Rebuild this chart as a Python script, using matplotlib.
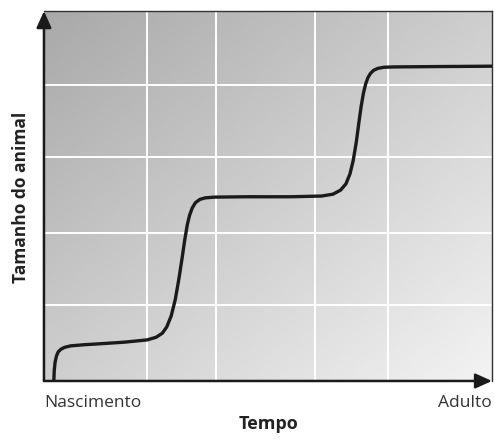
import numpy as np
import matplotlib.pyplot as plt
from matplotlib.colors import LinearSegmentedColormap

# growth curve (time 0-100, size 0-100)
tempo = [2.2, 2.3, 2.5, 2.8, 3.2, 3.8, 4.6, 6.0, 9.0, 13.0, 18.0, 23.0, 25.0,
         26.4, 27.4, 28.4, 29.3, 30.1, 30.8, 31.4, 32.0, 32.5, 33.1, 33.8,
         34.8, 36.0, 38.0, 45.0, 55.0, 62.0, 64.5, 66.2, 67.4, 68.3, 69.0,
         69.7, 70.3, 70.8, 71.3, 71.8, 72.3, 72.9, 73.6, 74.5, 75.8, 78.0,
         88.0, 100.0]
tamanho = [0.0, 3.0, 5.2, 6.8, 7.9, 8.6, 9.1, 9.5, 9.8, 10.1, 10.5, 11.1,
           11.8, 12.9, 14.6, 17.6, 22.0, 27.5, 33.0, 38.0, 42.3, 44.8, 46.8,
           48.2, 49.1, 49.5, 49.7, 49.8, 49.8, 50.0, 50.5, 51.6, 53.3, 56.0,
           59.5, 64.5, 70.0, 74.3, 77.8, 80.3, 82.0, 83.2, 84.0, 84.5, 84.8,
           84.9, 85.0, 85.1]

x_grid = [23.0, 38.4, 60.5, 76.8]
y_grid = [20.5, 40.0, 60.5, 80.0]

fig = plt.figure(figsize=(4.94, 4.43), dpi=100)
ax = fig.add_axes([0.089, 0.14, 0.907, 0.835])

# diagonal grey gradient background
gx, gy = np.meshgrid(np.linspace(0, 1, 200), np.linspace(0, 1, 200))
grad = (gx + (1 - gy)) / 2
cmap = LinearSegmentedColormap.from_list("bg", ["#a9a9a9", "#f3f3f3"])
ax.imshow(grad, cmap=cmap, extent=[0, 100, 0, 100], origin="lower",
          aspect="auto", zorder=0)

for xv in x_grid:
    ax.axvline(xv, color="white", lw=1.4, zorder=1)
for yv in y_grid:
    ax.axhline(yv, color="white", lw=1.4, zorder=1)

ax.plot(tempo, tamanho, color="#1a1a1a", lw=2.4, solid_capstyle="butt",
        solid_joinstyle="round", zorder=3)

ax.set_xlim(0, 100)
ax.set_ylim(0, 100)
ax.set_xticks([])
ax.set_yticks([])
for side in ["top", "right"]:
    ax.spines[side].set_color("#333333")
    ax.spines[side].set_linewidth(1.0)
for side in ["left", "bottom"]:
    ax.spines[side].set_visible(False)

# axis arrows
ax.annotate("", xy=(0, 1.0), xytext=(0, 0), xycoords="axes fraction",
            arrowprops=dict(arrowstyle="-|>,head_length=1.0,head_width=0.45",
                            color="#1a1a1a", lw=1.8, shrinkA=0, shrinkB=0),
            annotation_clip=False, zorder=5)
ax.annotate("", xy=(1.0, 0), xytext=(0, 0), xycoords="axes fraction",
            arrowprops=dict(arrowstyle="-|>,head_length=1.0,head_width=0.45",
                            color="#1a1a1a", lw=1.8, shrinkA=0, shrinkB=0),
            annotation_clip=False, zorder=5)

font = "Open Sans"
ax.text(0, -0.06, "Nascimento", transform=ax.transAxes, ha="left", va="center",
        fontsize=12.5, family=font, color="#333333")
ax.text(1, -0.06, "Adulto", transform=ax.transAxes, ha="right", va="center",
        fontsize=12.5, family=font, color="#333333")
fig.text(0.543, 0.022, "Tempo", ha="center", va="bottom", fontsize=13,
         fontweight="bold", family=font, color="#222222")
fig.text(0.042, 0.555, "Tamanho do animal", ha="center", va="center",
         rotation=90, fontsize=12.5, fontweight="bold", family=font,
         color="#222222")

fig.savefig("out.png", dpi=100)
